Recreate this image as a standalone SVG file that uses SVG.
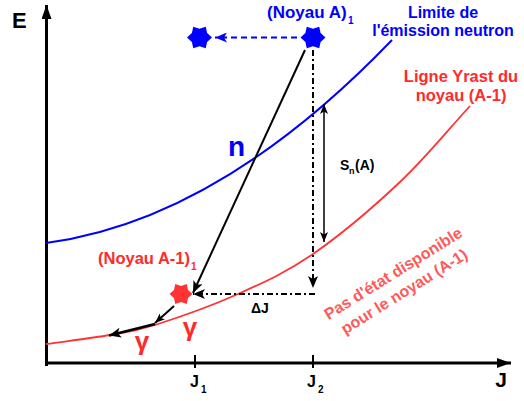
<svg xmlns="http://www.w3.org/2000/svg" xmlns:xlink="http://www.w3.org/1999/xlink" width="524" height="401" viewBox="0 0 524 401">
<style>
text{font-family:"Liberation Sans",Arial,sans-serif;font-weight:bold}
.blue{fill:#0000ff}
.red{fill:#ff2a2a}
.redl{fill:#ff5a5a}
.blk{fill:#000}
.axis{stroke:#000;stroke-width:3;fill:none}
.tick{stroke:#000;stroke-width:2}
.conn{stroke:#000;stroke-width:2;fill:none}
.dd{stroke:#000;stroke-width:2;fill:none;stroke-dasharray:6 3 2 3}
</style>
<defs>
<marker id="ahBig" viewBox="0 0 14 10" refX="14" refY="5" markerWidth="14" markerHeight="10" markerUnits="userSpaceOnUse" orient="auto"><path d="M0,0 L14,5 L0,10 Z" fill="#000"/></marker>
<marker id="ah" viewBox="0 0 12 10" refX="12" refY="5" markerWidth="12" markerHeight="10" markerUnits="userSpaceOnUse" orient="auto-start-reverse"><path d="M0,0 L12,5 L0,10 L3,5 Z" fill="#000"/></marker>
<marker id="ahS" viewBox="0 0 10 8" refX="10" refY="4" markerWidth="10" markerHeight="8" markerUnits="userSpaceOnUse" orient="auto-start-reverse"><path d="M0,0 L10,4 L0,8 L2.5,4 Z" fill="#000"/></marker>
<marker id="ahB" viewBox="0 0 12 10" refX="12" refY="5" markerWidth="12" markerHeight="10" markerUnits="userSpaceOnUse" orient="auto"><path d="M0,0 L12,5 L0,10 L3,5 Z" fill="#0000ff"/></marker>
<path id="star" d="M12.5,0 L7.6,4.4 L6.25,10.83 L0,8.8 L-6.25,10.83 L-7.6,4.4 L-12.5,0 L-7.6,-4.4 L-6.25,-10.83 L0,-8.8 L6.25,-10.83 L7.6,-4.4 Z"/>
</defs>

<g id="axes">
<line class="axis" x1="46.5" y1="366" x2="46.5" y2="5" marker-end="url(#ahBig)"/>
<line class="axis" x1="45" y1="363" x2="511" y2="363" marker-end="url(#ahBig)"/>
<line class="tick" x1="195" y1="355" x2="195" y2="368"/>
<line class="tick" x1="313" y1="355" x2="313" y2="368"/>
<text x="12" y="28" font-size="22" class="blk">E</text>
<text x="501" y="387" font-size="21" class="blk" text-anchor="middle">J</text>
<text x="190" y="387" font-size="16" class="blk">J</text>
<text x="201" y="393" font-size="10" class="blk">1</text>
<text x="307" y="387" font-size="16" class="blk">J</text>
<text x="318" y="393" font-size="10" class="blk">2</text>
</g>

<g id="curve-neutron">
<path d="M46,243 Q219,220 392,40" fill="none" stroke="#0000ff" stroke-width="2"/>
<text x="443" y="18" font-size="16" class="blue" text-anchor="middle">Limite de</text>
<text x="443" y="36" font-size="16" class="blue" text-anchor="middle">l'émission neutron</text>
</g>

<g id="curve-yrast">
<path d="M46,344 C67.3,341 91.8,338.2 110,335 C128.2,331.8 133.7,331.8 155,325 C176.3,318.2 211.7,305.8 238,294 C264.3,282.2 286,272.7 313,254 C340,235.3 373.8,206.7 400,182 C426.2,157.3 446.7,131.3 470,106" fill="none" stroke="#ff3333" stroke-width="1.8"/>
<text x="461" y="82" font-size="16.5" class="red" text-anchor="middle">Ligne Yrast du</text>
<text x="461" y="101" font-size="16.5" class="red" text-anchor="middle">noyau (A-1)</text>
</g>

<g id="no-state">
<text transform="translate(396,278) rotate(-32)" font-size="16" class="redl" text-anchor="middle">Pas d'état disponible</text>
<text transform="translate(407,296) rotate(-32)" font-size="16" class="redl" text-anchor="middle">pour le noyau (A-1)</text>
</g>

<g id="noyau-A">
<use xlink:href="#star" transform="translate(313,37.5)" fill="#0000ff"/>
<text x="267" y="18" font-size="17" class="blue">(Noyau A)</text>
<text x="348" y="24" font-size="10" class="blue">1</text>
</g>

<g id="noyau-A-shifted">
<use xlink:href="#star" transform="translate(199.5,37.5)" fill="#0000ff"/>
</g>

<g id="noyau-A-1">
<use xlink:href="#star" transform="translate(181,294) scale(0.92)" fill="#ff3333"/>
<text x="98" y="264" font-size="16.5" class="red">(Noyau A-1)</text>
<text x="191" y="270" font-size="10" class="red">1</text>
</g>

<g id="connectors">
<line x1="297" y1="37.5" x2="215" y2="37.5" stroke="#0000ff" stroke-width="2" stroke-dasharray="6 4" marker-end="url(#ahB)"/>
<line class="conn" x1="305" y1="50" x2="193" y2="293" marker-end="url(#ah)"/>
<line class="dd" x1="313" y1="50" x2="313" y2="288" marker-end="url(#ah)"/>
<line class="dd" x1="315" y1="294" x2="193" y2="294" marker-end="url(#ah)"/>
<line x1="324" y1="104" x2="324" y2="242" stroke="#000" stroke-width="1.5" marker-start="url(#ahS)" marker-end="url(#ahS)"/>
<line class="conn" x1="174" y1="306" x2="155" y2="323" marker-end="url(#ahS)"/>
<line x1="155" y1="324" x2="109" y2="335.5" stroke="#000" stroke-width="2.5" marker-end="url(#ah)"/>
</g>

<g id="labels">
<text x="228" y="156" font-size="28" class="blue">n</text>
<text x="340" y="170" font-size="14" class="blk">S</text>
<text x="349" y="174" font-size="9" class="blk">n</text>
<text x="355" y="170" font-size="14" class="blk">(A)</text>
<text x="251" y="313" font-size="14" class="blk">ΔJ</text>
<text x="190" y="336" font-size="26" class="red" text-anchor="middle">γ</text>
<text x="142" y="350" font-size="26" class="red" text-anchor="middle">γ</text>
</g>
</svg>
